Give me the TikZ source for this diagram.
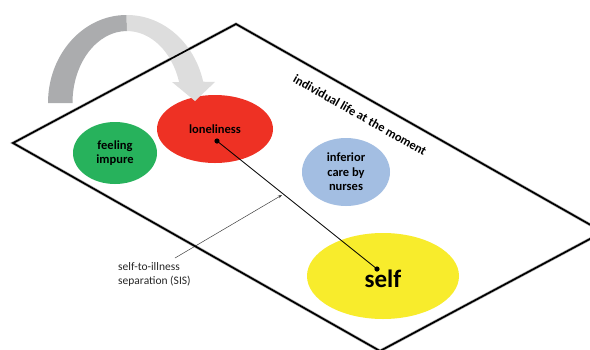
\documentclass[tikz,border=0pt]{standalone}
\usepackage{fontspec}
\setmainfont{Carlito}
\usetikzlibrary{arrows.meta,shapes.geometric}
\definecolor{gGreen}{HTML}{27B25C}
\definecolor{gRed}{HTML}{EE3124}
\definecolor{gBlue}{HTML}{A3BEE2}
\definecolor{gYellow}{HTML}{F8EC2C}
\definecolor{gDark}{HTML}{ABACAE}
\definecolor{gLight}{HTML}{DDDDDD}
\begin{document}
\begin{tikzpicture}[x=1pt,y=-1pt,
  blob/.style={ellipse, inner sep=0pt, align=center, font=\bfseries\fontsize{12.5}{14.5}\selectfont},
  dotmark/.style={fill=black},
  border/.style={line width=1.7pt, black, line join=miter},
  shadowline/.style={line width=3pt, black!30, line join=miter}]
\useasboundingbox (0,0) rectangle (590,349);
\clip (0,0) rectangle (590,349);
% plane
\coordinate (pA) at (13,143);
\coordinate (pB) at (236,24);
\coordinate (pC) at (603,232);
\coordinate (pD) at (380,351);
\fill[white] (pA) -- (pB) -- (pC) -- (pD) -- cycle;
\draw[shadowline, shift={(1.3,1.6)}] (pA) -- (pB) -- (pC) -- (pD) -- cycle;
% ellipses
\node[blob, fill=gGreen, minimum width=84pt, minimum height=62pt] (impure) at (115,153) {feeling\\impure};
\node[blob, fill=gRed, minimum width=116pt, minimum height=68pt] (lonely) at (215,129) {loneliness};
\node[blob, fill=gBlue, minimum width=88pt, minimum height=68pt] (nurses) at (346,172) {inferior\\care by\\nurses};
\node[ellipse, inner sep=0pt, fill=gYellow, minimum width=152pt, minimum height=86pt] (self) at (383,276) {};
\node[inner sep=0pt, font=\bfseries\fontsize{25}{28}\selectfont] (selfText) at (383,279) {self};
% SIS connector
\coordinate (lonDot) at (217,141);
\coordinate (selfDot) at (377,269);
\draw[line width=0.8pt] (lonDot) -- (selfDot);
\fill[dotmark] (lonDot) circle (2.6);
\fill[dotmark] (selfDot) circle (2.6);
% annotation
\node[anchor=north west, inner sep=0pt, align=left, text=black!85, font=\fontsize{11.5}{14}\selectfont] (sis) at (118,262) {self-to-illness\\separation (SIS)};
\coordinate (sisFoot) at (175,258);
\coordinate (sisTip) at (282,195);
\draw[line width=0.5pt, black!75, -{Stealth[length=4pt,width=3pt]}] (sisFoot) -- (sisTip);
% curved arrow
\fill[gDark] (48,103) arc[start angle=180, end angle=270, x radius=78.5, y radius=88]
  -- (127,31) arc[start angle=270, end angle=180, x radius=54.5, y radius=72] -- cycle;
\fill[gLight] (127,15) arc[start angle=270, end angle=346, x radius=78.5, y radius=88]
  -- (215,82) -- (195,101) -- (172,82) -- (179.1,82)
  arc[start angle=343, end angle=270, x radius=54.5, y radius=72] -- cycle;
% border
\draw[border] (pA) -- (pB) -- (pC) -- (pD) -- cycle;
% label
\node[rotate=-29.5, inner sep=0pt, font=\bfseries\fontsize{12.5}{14}\selectfont] (lifeLabel) at (360,115) {individual life at the moment};
\end{tikzpicture}
\end{document}
